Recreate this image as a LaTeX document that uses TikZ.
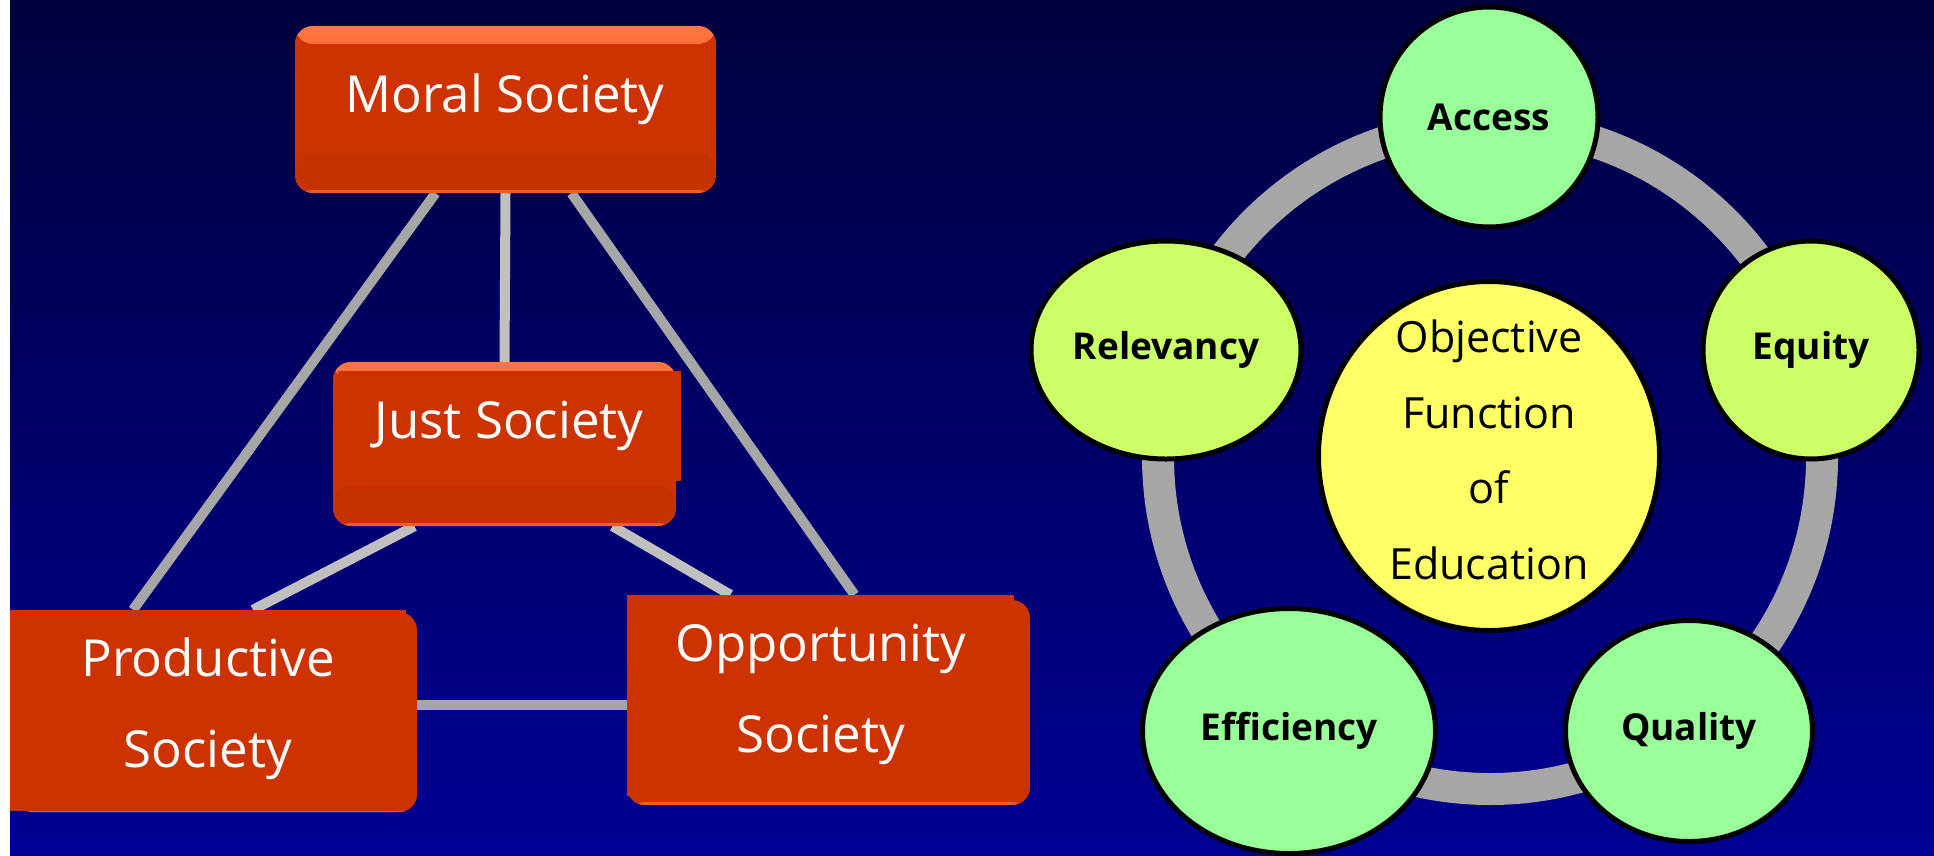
\documentclass[tikz,border=0pt]{standalone}
\usepackage{fontspec}
\setmainfont{Open Sans}
\usetikzlibrary{shapes.geometric,backgrounds}

\definecolor{bgtop}{HTML}{00003E}
\definecolor{bgmid}{HTML}{00006C}
\definecolor{bgbot}{HTML}{000092}
\definecolor{socorange}{HTML}{CC3300}
\definecolor{socglow}{HTML}{FF7744}
\definecolor{socdark}{HTML}{C43200}
\definecolor{linkgray}{HTML}{A6A6A6}
\definecolor{linklight}{HTML}{C0C0C0}
\definecolor{aimgreen}{HTML}{99FF99}
\definecolor{aimlime}{HTML}{CCFF66}
\definecolor{aimyellow}{HTML}{FFFF66}

\newcommand\socfont{\fontsize{51}{91}\selectfont}
\newcommand\aimfont{\fontsize{37}{44}\selectfont\bfseries}
\newcommand\objfont{\fontsize{43}{75.5}\selectfont}

\tikzset{
  socbox/.style={fill=socorange, rounded corners=18pt, inner sep=0pt,
    path picture={
      \shade[top color=socglow, bottom color=socorange]
        (path picture bounding box.north west) rectangle ([yshift=-18pt]path picture bounding box.north east);
      \fill[socdark] ([yshift=40pt]path picture bounding box.south west) rectangle ([yshift=3pt]path picture bounding box.south east);
      \fill[socglow!60!socorange] ([yshift=3pt]path picture bounding box.south west) rectangle (path picture bounding box.south east);
    }},
  socback/.style={fill=socorange, rounded corners=18pt,
    path picture={
      \fill[socglow!60!socorange] ([yshift=3pt]path picture bounding box.south west) rectangle (path picture bounding box.south east);
    }},
  socflat/.style={fill=socorange, inner sep=0pt},
  soctext/.style={text=white, font=\socfont, inner sep=0pt},
  link/.style={line width=10pt, draw=linkgray},
  linkpale/.style={line width=10pt, draw=linklight},
  ring/.style={line width=32pt, draw=linkgray},
  aim/.style={ellipse, draw=black, line width=5pt, inner sep=0pt, font=\aimfont}
}

\begin{document}
\begin{tikzpicture}[x=1pt,y=-1pt]
\useasboundingbox (0,0) rectangle (1934,855);

\path[socback] (14,612) rectangle (417,812);
\path[socback] (627,600) rectangle (1030,805);
\node[socbox, minimum width=421pt, minimum height=167pt] (moral) at (505.5,109.5) {};
\node[socbox, minimum width=343pt, minimum height=164pt] (just) at (504.5,444) {};
\fill[socorange] (338,371) rectangle (681,481);
\node[socflat, minimum width=396pt, minimum height=201pt] (prod) at (208,710.5) {};
\node[socflat, minimum width=387pt, minimum height=201pt] (opp) at (820.5,695.5) {};

\node[soctext, anchor=base] (moraltxt) at (505,112) {Moral Society};
\node[soctext, anchor=base] (justtxt) at (509,438) {Just Society};
\node[soctext, align=center] (prodtxt) at (208,709) {Productive\\Society};
\node[soctext, align=center] (opptxt) at (821,694) {Opportunity\\Society};

\node[aim, fill=aimyellow, minimum width=341pt, minimum height=349pt] (obj) at (1489,456) {};
\node[font=\objfont, align=center, inner sep=0pt] (objtxt) at (1489,450) {Objective\\Function\\of\\Education};
\node[aim, fill=aimgreen, minimum width=218pt, minimum height=220pt] (access) at (1489,117) {Access};
\node[aim, fill=aimlime, minimum width=270pt, minimum height=218pt] (relev) at (1166,350) {Relevancy};
\node[aim, fill=aimlime, minimum width=216pt, minimum height=218pt] (equity) at (1811,350) {Equity};
\node[aim, fill=aimgreen, minimum width=293pt, minimum height=245pt] (effic) at (1289,731) {Efficiency};
\node[aim, fill=aimgreen, minimum width=247pt, minimum height=221pt] (quality) at (1689,731) {Quality};

\begin{scope}[on background layer]
\fill[white] (0,0) rectangle (10,855);
\shade[top color=bgtop, middle color=bgmid, bottom color=bgbot] (10,0) rectangle (1934,855);
\draw[ring] ([shift={(1pt,-1pt)}]obj.center) circle (332pt);
\draw[linkpale] (moral.south) -- (just.north);
\draw[link] ([xshift=-70pt]moral.south) -- ([xshift=-75pt]prod.north);
\draw[link] ([xshift=66pt]moral.south) -- ([xshift=34pt]opp.north);
\draw[linkpale] ([xshift=-90pt]just.south) -- ([xshift=45pt]prod.north);
\draw[linkpale] ([xshift=108pt]just.south) -- ([xshift=-90pt]opp.north);
\draw[link] ([yshift=5.5pt]prod.east) -- ([yshift=-9.5pt]opp.west);
\end{scope}
\end{tikzpicture}
\end{document}
